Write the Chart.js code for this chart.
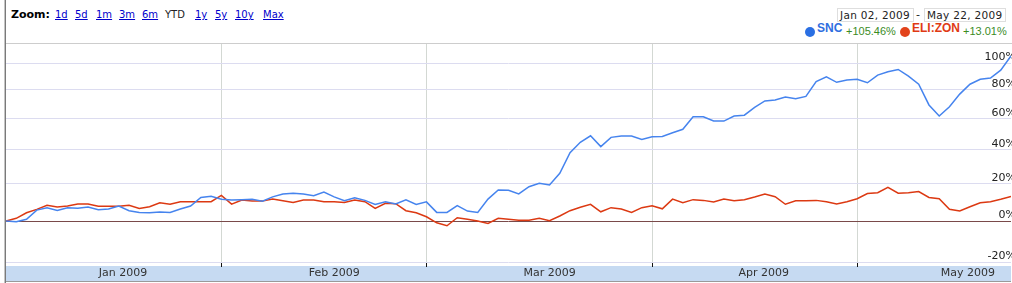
<!DOCTYPE html>
<html>
<head>
<meta charset="utf-8">
<script src="https://cdn.jsdelivr.net/npm/chart.js@4.4.0/dist/chart.umd.min.js"></script>
<style>
  html, body { margin: 0; padding: 0; background: #fff; }
  body { width: 1012px; height: 283px; position: relative; overflow: hidden; font-family: "DejaVu Sans", Verdana, sans-serif; }
  .abs { position: absolute; white-space: nowrap; }
  #edgeDark { left: 5px; top: 0; width: 1px; height: 283px; background: #7a7a7a; }
  #edgeLight { left: 4px; top: 0; width: 1px; height: 283px; background: #c4c4c4; }
  #topLine { left: 6px; top: 43px; width: 1006px; height: 1px; background: #cdcdcd; }
  .zl { top: 8px; line-height: 14px; font-size: 10px; color: #0000cc; text-decoration: underline; }
  #zoomLbl { left: 11px; top: 8px; line-height: 14px; font-size: 11px; font-weight: bold; color: #000; }
  .datebox { top: 8px; height: 12px; line-height: 12px; border: 1px solid #dedede; font-size: 10.5px; letter-spacing: 0.3px; color: #222; padding: 0 3px 0 2px; }
  .dot { width: 10px; height: 10px; border-radius: 50%; top: 27px; }
  .tick { top: 21px; line-height: 15px; font-family: "Liberation Sans", Arial, sans-serif; font-weight: bold; font-size: 12px; }
  .chg { top: 24px; line-height: 15px; font-family: "Liberation Sans", Arial, sans-serif; font-size: 11px; color: #3b8c1f; }
  #chart { position: absolute; left: 6px; top: 44px; }
</style>
</head>
<body>
<div id="edgeLight" class="abs"></div>
<div id="edgeDark" class="abs"></div>

<div id="zoomLbl" class="abs">Zoom:</div>
<span class="abs zl" style="left:55px">1d</span>
<span class="abs zl" style="left:75px">5d</span>
<span class="abs zl" style="left:96px">1m</span>
<span class="abs zl" style="left:119px">3m</span>
<span class="abs zl" style="left:142px">6m</span>
<span class="abs zl" style="left:165px;color:#222;text-decoration:none">YTD</span>
<span class="abs zl" style="left:195px">1y</span>
<span class="abs zl" style="left:215px">5y</span>
<span class="abs zl" style="left:235px">10y</span>
<span class="abs zl" style="left:263px">Max</span>

<div class="abs datebox" style="left:837px">Jan 02, 2009</div>
<div class="abs" style="left:916px;top:8px;line-height:13px;font-size:11px;color:#222">-</div>
<div class="abs datebox" style="left:924px">May 22, 2009</div>

<div class="abs dot" style="left:805px;background:#2a6fe3"></div>
<div class="abs tick" style="left:817px;color:#2f6ee0">SNC</div>
<div class="abs chg" style="left:846px">+105.46%</div>
<div class="abs dot" style="left:900px;background:#e2431b"></div>
<div class="abs tick" style="left:912px;color:#e03a14">ELI:ZON</div>
<div class="abs chg" style="left:963px">+13.01%</div>

<div id="topLine" class="abs"></div>
<canvas id="chart" width="1006" height="239"></canvas>

<script>
// Daily % change since the start of the year, one value per trading session
const snc = [
  0, -0.4, 0.9, 5.7, 6.9, 5.5, 6.9, 6.7, 7.3, 5.9,
  6.3, 7.9, 5.4, 4.5, 4.3, 4.7, 4.5, 6.3, 7.9, 12.5,
  13.1, 11.5, 11.1, 11.3, 11.5, 10.5, 12.8, 14.4, 14.8, 14.4,
  13.4, 15.5, 12.8, 10.7, 12.3, 10.9, 8.7, 10.1, 9.0, 11.2,
  8.7, 10.1, 4.5, 4.5, 8.1, 5.2, 4.5, 11.6, 16.6, 16.4,
  14.4, 18.4, 20.3, 19.4, 26.1, 38.3, 44.8, 48.9, 42.1, 47.9,
  48.7, 48.7, 46.6, 48.3, 48.5, 50.9, 53.1, 61.4, 61.4, 58.5,
  58.5, 61.9, 62.4, 67.7, 72.2, 72.9, 74.9, 73.7, 75.4, 86.0,
  89.6, 85.5, 87.2, 87.7, 85.2, 90.8, 93.3, 95.1, 90.1, 84.1,
  69.4, 61.9, 68.2, 77.0, 84.1, 87.7, 88.7, 94.6, 105.46
];
const elizon = [
  0, 1.4, 4.3, 6.1, 8.3, 7.3, 7.9, 8.9, 8.9, 7.7,
  7.7, 7.7, 8.3, 6.6, 7.5, 9.6, 8.8, 10.2, 10.2, 10.2,
  10.2, 13.6, 8.9, 11.1, 10.5, 10.5, 11.6, 10.7, 9.8, 11.1,
  11.1, 10.2, 10.2, 9.8, 11.1, 10.2, 6.6, 9.3, 9.1, 5.4,
  4.3, 2.2, -0.9, -2.4, 1.7, 0.9, 0, -1.2, 1.4, 0.9,
  0.4, 0.4, 1.4, 0.2, 2.6, 5.4, 7.2, 8.8, 4.8, 7.0,
  6.3, 4.5, 7.0, 8.0, 6.4, 11.6, 9.6, 11.3, 10.9, 10.0,
  11.6, 10.7, 11.3, 12.7, 14.4, 12.9, 8.8, 10.7, 10.7, 10.9,
  10.2, 8.9, 10.2, 11.8, 14.6, 15.1, 18.1, 14.8, 15.1, 15.7,
  12.5, 11.8, 6.1, 5.2, 7.5, 9.6, 10.2, 11.5, 13.01
];
const yTicks = [-20, 0, 20, 40, 60, 80, 100];
// session index where each new month begins (grid lines)
const monthStarts = [21, 41, 63, 83];
const monthLabels = ['Jan 2009', 'Feb 2009', 'Mar 2009', 'Apr 2009', 'May 2009'];
const monthLabelAt = [11.4, 32, 53, 73.9, 93.8];

// The percent axis is compressed like a log scale on (BASE + pct)
const BASE = 200;
const toPoints = (arr) => arr.map((p, i) => ({ x: i, y: BASE + p }));
const isMonth = (c) => !!(c.tick && monthStarts.includes(c.tick.value));

// light blue strip behind the month names
const axisBand = {
  id: 'axisBand',
  beforeDraw(chart) {
    const { ctx, chartArea, scales: { x } } = chart;
    ctx.save();
    ctx.fillStyle = '#c6daf2';
    ctx.fillRect(chartArea.left, x.top + 3, chartArea.right - chartArea.left, 15);
    ctx.fillStyle = '#9a9a9a';
    ctx.fillRect(chartArea.left, x.top + 18, chartArea.right - chartArea.left, 1);
    ctx.restore();
  }
};

new Chart(document.getElementById('chart'), {
  type: 'line',
  data: {
    datasets: [
      { label: 'SNC', data: toPoints(snc), borderColor: '#4684ee' },
      { label: 'ELI:ZON', data: toPoints(elizon), borderColor: '#dc3912' }
    ]
  },
  plugins: [axisBand],
  options: {
    responsive: false,
    animation: false,
    devicePixelRatio: 1,
    layout: { padding: { left: 0, right: 1, top: 0, bottom: 0 } },
    elements: { point: { radius: 0 }, line: { borderWidth: 1.5, tension: 0 } },
    plugins: { legend: { display: false }, tooltip: { enabled: false } },
    scales: {
      x: {
        type: 'linear',
        min: 0,
        max: snc.length - 1,
        afterBuildTicks: (s) => {
          s.ticks = monthStarts.concat(monthLabelAt).sort((a, b) => a - b).map((v) => ({ value: v }));
        },
        afterFit: (s) => { s.height = 20; s.paddingLeft = 0; s.paddingRight = 0; },
        border: { display: false },
        grid: {
          color: (c) => isMonth(c) ? '#d3d8d3' : 'rgba(0,0,0,0)',
          tickColor: (c) => isMonth(c) ? '#111' : 'rgba(0,0,0,0)',
          tickLength: 4,
          lineWidth: 1
        },
        ticks: {
          autoSkip: false,
          maxRotation: 0,
          minRotation: 0,
          padding: 0,
          color: '#333',
          font: { family: 'DejaVu Sans', size: 11 },
          callback: (v) => {
            const k = monthLabelAt.indexOf(v);
            return k >= 0 ? monthLabels[k] : '';
          }
        }
      },
      y: {
        type: 'logarithmic',
        position: 'right',
        min: BASE - 20.4,
        max: BASE + 115,
        afterBuildTicks: (s) => { s.ticks = yTicks.map((p) => ({ value: BASE + p })); },
        afterFit: (s) => { s.width = 0; s.paddingTop = 0; s.paddingBottom = 0; },
        border: { display: false },
        grid: {
          drawTicks: false,
          color: (c) => (c.tick && c.tick.value === BASE) ? '#7a4a4a' : '#dcdcf0'
        },
        ticks: {
          mirror: true,
          padding: 5,
          labelOffset: -6,
          color: '#222',
          font: { family: 'DejaVu Sans', size: 11 },
          callback: (v) => Math.round(v - BASE) + '%'
        }
      }
    }
  }
});
</script>
</body>
</html>
